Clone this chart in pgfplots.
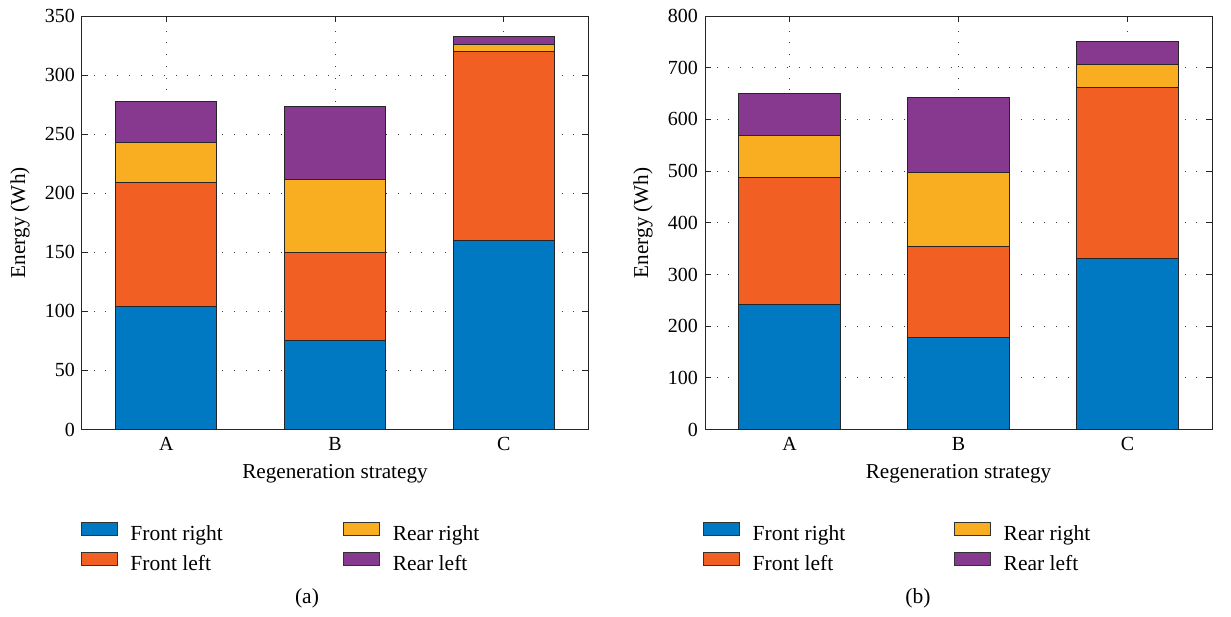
\documentclass[border=0pt]{standalone}
\usepackage{fontspec}
\setmainfont{Liberation Serif}
\usepackage{pgfplots}
\pgfplotsset{compat=1.18}
\definecolor{cFR}{HTML}{0079C2}
\definecolor{cFL}{HTML}{F25F22}
\definecolor{cRR}{HTML}{F9AE21}
\definecolor{cRL}{HTML}{873990}
\pgfplotsset{
  myax/.style={
    scale only axis, width=506pt, height=413.5pt,
    ybar stacked, bar width=0.6,
    xmin=0.5, xmax=3.5, xtick={1,2,3}, xticklabels={A,B,C}, ymin=0,
    grid=major,
    major grid style={dash pattern=on 1pt off 10.7pt, draw=black!75, line width=0.9pt},
    tick align=inside, major tick length=6pt,
    axis line style={line width=1pt, draw=black!85},
    major tick style={draw=black!85, line width=1pt},
    tick label style={font=\fontsize{20}{24}\selectfont},
    xticklabel style={yshift=-4pt},
    yticklabel style={xshift=-3.6pt},
    /pgf/number format/assume math mode=true,
    xlabel={Regeneration strategy}, ylabel={Energy (Wh)},
    every axis x label/.style={at={(axis description cs:0.5,0)}, anchor=base, yshift=-49pt, font=\fontsize{21.2}{25}\selectfont},
    every axis y label/.style={at={(axis description cs:0,0.5)}, rotate=90, anchor=center, yshift=62pt, font=\fontsize{21.2}{25}\selectfont},
    legend columns=2, legend cell align=left,
    legend image code/.code={\draw[##1,line width=0.9pt] (0pt,-1.5pt) rectangle (35.5pt,11.5pt);},
    legend style={draw=none, fill=none, inner sep=0pt, outer sep=0pt,
      at={(axis description cs:0,0)}, anchor=north west,
      font=\fontsize{21.5}{26}\selectfont,
      nodes={inner sep=0pt}, row sep=10pt,
      /tikz/every odd column/.append style={column sep=13pt}},
    bstyle/.style={draw=black!85, line width=1pt},
  }
}
\begin{document}
\begin{tikzpicture}
\path[use as bounding box] (0pt,0pt) rectangle (1231pt,-616pt);
% (a)
\begin{axis}[myax, at={(82pt,-429.5pt)}, anchor=south west,
  ymax=350, ytick={0,50,...,350},
  legend style={xshift=-1pt, yshift=-92.5pt,
    /tikz/every even column/.append style={column sep=120.4pt}}]
\addlegendimage{fill=cFR, draw=black!80}
\addlegendimage{fill=cRR, draw=black!80}
\addlegendimage{fill=cFL, draw=black!80}
\addlegendimage{fill=cRL, draw=black!80}
\addplot[bstyle, fill=cFR] coordinates {(1,104.5) (2,75.0) (3,160.0)};
\addplot[bstyle, fill=cFL] coordinates {(1,104.6) (2,74.7) (3,159.8)};
\addplot[bstyle, fill=cRR] coordinates {(1,34.0) (2,61.8) (3,6.5)};
\addplot[bstyle, fill=cRL] coordinates {(1,34.6) (2,62.1) (3,6.5)};
\legend{Front right, Rear right, Front left, Rear left}
\end{axis}
% (b)
\begin{axis}[myax, at={(705pt,-429.5pt)}, anchor=south west, width=507pt,
  ymax=800, ytick={0,100,...,800},
  legend style={xshift=-1.7pt, yshift=-92.5pt,
    /tikz/every even column/.append style={column sep=109pt}}]
\addlegendimage{fill=cFR, draw=black!80}
\addlegendimage{fill=cRR, draw=black!80}
\addlegendimage{fill=cFL, draw=black!80}
\addlegendimage{fill=cRL, draw=black!80}
\addplot[bstyle, fill=cFR] coordinates {(1,242.8) (2,177.1) (3,330.4)};
\addplot[bstyle, fill=cFL] coordinates {(1,244.2) (2,177.8) (3,330.5)};
\addplot[bstyle, fill=cRR] coordinates {(1,81.1) (2,143.0) (3,44.4)};
\addplot[bstyle, fill=cRL] coordinates {(1,81.8) (2,144.3) (3,45.1)};
\legend{Front right, Rear right, Front left, Rear left}
\end{axis}
\node[anchor=base, font=\fontsize{21.5}{26}\selectfont] at (307pt,-603pt) {(a)};
\node[anchor=base, font=\fontsize{21.5}{26}\selectfont] at (918pt,-603pt) {(b)};
\end{tikzpicture}
\end{document}
